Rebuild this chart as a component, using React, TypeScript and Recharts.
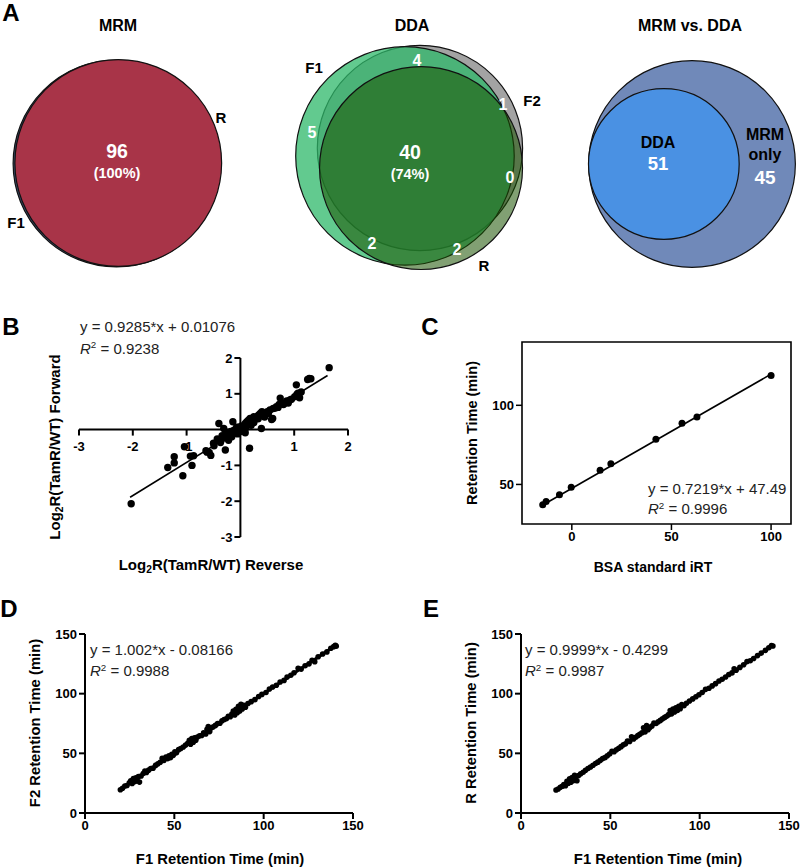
import React from 'react';
import { ScatterChart, Scatter, XAxis, YAxis, ReferenceLine, ReferenceArea } from 'recharts';

const FONT = '"Liberation Sans", Arial, Helvetica, sans-serif';

// ---------- A: Venn diagrams (peptide counts). x/y = circle centre in sqrt(count) units
const vennMRM = [
  { set: 'F1', count: 96, x: -0.05, y: -0.05 },
  { set: 'R', count: 96, x: 0.12, y: 0 },
];
const vennDDA = [
  { set: 'F2', count: 45, x: 0.52, y: 0.59 },
  { set: 'F1', count: 51, x: -0.46, y: 0.07 },
  { set: 'R', count: 44, x: 0.59, y: -0.72 },
];
const vennCompare = [
  { set: 'MRM', count: 96, x: 0, y: 0 },
  { set: 'DDA', count: 51, x: -2.67, y: 0 },
];

// ---------- B: log2 ratios, reverse vs forward labelling
const bReverse = [
  -2.03, -1.35, -1.23, -1.23, -1.07, -1.04, -0.93, -0.9, -0.87, -0.64, -0.62, -0.58, -0.55, -0.49, -0.43, -0.4,
  -0.37, -0.34, -0.31, -0.28, -0.27, -0.19, -0.14, -0.12, -0.07, -0.03, 0.03, 0.06, 0.09, 0.09, 0.12, 0.15, 0.17,
  0.18, 0.21, 0.25, 0.31, 0.34, 0.37, 0.39, 0.4, 0.43, 0.45, 0.49, 0.55, 0.58, 0.6, 0.61, 0.67, 0.74, 0.77, 0.83,
  0.89, 0.92, 1.01, 1.04, 1.07, 1.1, 1.13, 1.25, 1.31, 1.65, -0.22, -0.16, -0.1, 0.0, 0.25, 0.28, 0.52, 0.7, 0.8,
  0.95, 1.28, -0.5, -0.35, -0.25, -0.18, -0.05, 0.02, 0.1, 0.13, 0.2, 0.33, 0.42, 0.5, 0.65, 0.72, 0.86, 1.05,
];
const bForward = [
  -2.07, -1.06, -0.76, -0.93, -1.29, -0.48, -0.74, -1.0, -0.73, -0.59, -0.63, -0.64, -0.72, -0.45, -0.26, 0.17,
  -0.36, -0.17, 0.03, -0.57, -0.07, -0.12, 0.22, -0.02, 0.07, 0.07, -0.02, 0.07, 0.17, -0.09, 0.22, 0.26, -0.52,
  0.31, 0.22, 0.36, 0.36, 0.41, 0.45, 0.03, 0.5, 0.41, 0.35, 0.45, 0.55, 0.28, 0.31, 0.59, 0.64, 0.88, 0.74, 0.74,
  0.74, 0.83, 0.92, 1.25, 1.02, 0.89, 1.05, 1.4, 1.42, 1.73, -0.3, -0.2, -0.1, -0.05, 0.2, 0.3, 0.45, 0.62, 0.7,
  0.85, 1.43, -0.38, -0.28, -0.22, -0.05, -0.12, 0.1, 0.05, 0.15, 0.12, 0.3, 0.38, 0.5, 0.6, 0.7, 0.8, 0.98,
];
const bFit = [{ x: -2.05, y: -1.89 }, { x: 1.62, y: 1.51 }];
const bTicks = [-3, -2, -1, 1, 2];

// ---------- C: BSA iRT standard peptides
const cIrt = [-14.6, -12.9, -6.2, -0.3, 14.2, 19.6, 42.2, 55.3, 62.8, 100];
const cRt = [37.1, 39.2, 43.5, 48.3, 58.9, 63.1, 78.5, 88.6, 92.6, 118.8];
const cFit = [{ x: -15, y: 36.66 }, { x: 100, y: 119.68 }];

// ---------- D: F1 vs F2 retention time (min)
const dF1 = [
  19.8, 21, 22.3, 23.5, 24.8, 25.6, 26.4, 27.1, 27.8, 28.5, 29.2, 29.9, 30.5, 31.4, 32.6, 33.5, 34.4, 35.6, 36.8,
  38.1, 39.5, 40.8, 42.1, 43.2, 44.1, 45.3, 46.2, 47, 47.8, 48.6, 49.4, 50.3, 51.2, 52.4, 53.6, 55, 56.3, 57.5,
  58.4, 59.1, 59.8, 60.6, 61.3, 62, 62.9, 64.1, 65.3, 66.4, 67.6, 68.3, 69, 69.8, 70.7, 71.8, 73, 74.2, 75.5, 76.7,
  77.9, 79.1, 80.2, 81.3, 82.2, 83, 83.8, 84.5, 85.2, 85.9, 86.6, 87.3, 88, 88.9, 89.8, 91.2, 93, 95.1, 97.2, 99,
  101.3, 103.2, 105, 107.1, 109.2, 111.4, 113.1, 115.2, 117, 119.3, 121, 123.2, 125.4, 127.1, 128.6, 130.5, 133,
  135.4, 137.6, 139.2, 140.1, 140.6,
];
const dF2 = [
  19.5, 20.8, 22.6, 23, 25.3, 26.9, 24.8, 28.9, 26.2, 29.4, 27, 30.6, 25.9, 31, 33.1, 35.2, 34, 35.9, 37.3, 37.6,
  39.9, 41.2, 42.5, 45.8, 44, 46.9, 45.5, 47.9, 46.4, 49.2, 48.3, 51.2, 50.4, 53.1, 54, 55.3, 56.9, 58.4, 60.9,
  57.6, 62.4, 59.3, 63.1, 61, 63.6, 64.7, 65, 67.2, 66.3, 70.1, 72.4, 68.2, 71.5, 72.2, 73.4, 74.9, 75.2, 77.3,
  78.4, 79, 81.1, 80.6, 83, 85.4, 82.1, 86.9, 84, 89.5, 85.5, 91, 87.2, 90.2, 88.6, 91.8, 93.3, 95, 97.6, 99.4,
  101, 103.9, 105.6, 107, 109.8, 111.1, 113.9, 115.4, 117.5, 121.2, 120.6, 123.4, 125, 127.9, 126.8, 130.9,
  133.2, 135, 138, 139.4, 140.6, 139.8,
];
const dFit = [{ x: 19.5, y: 19.46 }, { x: 141, y: 141.2 }];

// ---------- E: F1 vs R retention time (min)
const eF1 = [
  19.6, 20.8, 22, 23.1, 24, 24.9, 25.7, 26.5, 27.2, 27.9, 28.6, 29.3, 30, 30.6, 31.3, 32.2, 33.4, 34.8, 36.1,
  37.5, 38.9, 40.3, 41.7, 43, 44.4, 45.7, 47, 48.3, 49.6, 50.9, 52.1, 53.4, 54.7, 56, 57.3, 58.5, 59.6, 60.8,
  61.9, 63, 64.2, 65.4, 66.5, 67.7, 68.6, 69.4, 70.3, 71.1, 72, 73.2, 74.4, 75.6, 76.8, 78, 79.2, 80.4, 81.5,
  82.6, 83.5, 84.3, 85.1, 85.9, 86.7, 87.5, 88.3, 89.1, 90, 91.2, 92.6, 94.3, 96.1, 97.9, 99.6, 101.4, 103.3,
  105.2, 107, 108.9, 110.8, 112.6, 114.5, 116.3, 118.1, 119.3, 120.4, 122.5, 124.6, 126.5, 128.3, 130.2, 132.4,
  134.5, 136.8, 138.7, 140.2, 141,
];
const eR = [
  19.3, 20.1, 21.6, 22.4, 23.9, 22.8, 26.5, 24.9, 28.6, 25.8, 29.8, 27.1, 31.6, 28.2, 27, 31.4, 32.9, 34.2, 35.8,
  37.3, 38.6, 40, 41.5, 42.6, 44.1, 45.6, 46.4, 48, 49.5, 51.8, 51.4, 53, 54.3, 55.6, 57.1, 58, 60.2, 60, 63.9,
  62.1, 63.5, 64.8, 66, 67.3, 71.5, 67.9, 73.2, 69.8, 71.4, 72.8, 75.3, 75, 76.5, 77.6, 78.9, 80.1, 81, 82.4, 85.8,
  83.1, 87.2, 84.6, 88.1, 85.9, 89.5, 87.4, 90.8, 89.9, 91.9, 93.8, 95.6, 97.4, 99.1, 101, 103.6, 104.6, 106.5,
  108.4, 110.6, 112.1, 114, 116, 117.4, 120.9, 119.6, 122, 124.2, 126.9, 127.6, 129.5, 131.9, 134, 136.3, 138.5,
  140.4, 140,
];
const eFit = [{ x: 19.5, y: 19.07 }, { x: 141, y: 140.56 }];
const rtTicks = [0, 50, 100, 150];

const zip = (xs: number[], ys: number[]) => xs.map((x, i) => ({ x, y: ys[i] }));

// ---------- small helpers
type TProps = { x: number; y: number; s?: number; b?: boolean; c?: string; left?: boolean; rot?: boolean; children: React.ReactNode };
const T = ({ x, y, s = 15, b = true, c = '#000', left = false, rot = false, children }: TProps) => (
  <div
    style={{
      position: 'absolute',
      left: x,
      top: y,
      fontSize: s,
      fontWeight: b ? 700 : 400,
      color: c,
      lineHeight: 1,
      whiteSpace: 'nowrap',
      transform: `translate(${left ? '0' : '-50%'}, -50%)${rot ? ' rotate(-90deg)' : ''}`,
    }}
  >
    {children}
  </div>
);
const Sup = ({ children }: { children: React.ReactNode }) => (
  <span style={{ fontSize: '0.65em', position: 'relative', top: '-0.55em' }}>{children}</span>
);
const Sub = ({ children }: { children: React.ReactNode }) => (
  <span style={{ fontSize: '0.68em', position: 'relative', top: '0.3em' }}>{children}</span>
);

type VStyle = Record<string, { fill: string; op: number }>;
function Venn({ data, k, cx, cy, styles, w = 250, h = 250 }: { data: any[]; k: number; cx: number; cy: number; styles: VStyle; w?: number; h?: number }) {
  const hx = w / 2 / k;
  const hy = h / 2 / k;
  const shape = (p: any) => {
    const st = styles[p.payload.set];
    return (
      <circle cx={p.cx} cy={p.cy} r={k * Math.sqrt(p.payload.count)} fill={st.fill} fillOpacity={st.op} stroke="#111" strokeWidth={1.2} />
    );
  };
  return (
    <div style={{ position: 'absolute', left: cx - w / 2, top: cy - h / 2 }}>
      <ScatterChart width={w} height={h} margin={{ top: 0, right: 0, bottom: 0, left: 0 }}>
        <XAxis type="number" dataKey="x" domain={[-hx, hx]} hide />
        <YAxis type="number" dataKey="y" domain={[-hy, hy]} hide />
        <Scatter data={data} shape={shape} isAnimationActive={false} />
      </ScatterChart>
    </div>
  );
}

const dot = (r: number) => (p: any) => <circle cx={p.cx} cy={p.cy} r={r} fill="#000" />;

const axisTick = { fill: '#000', fontSize: 13, fontWeight: 700 };
const axLine = { stroke: '#000', strokeWidth: 2 };

function RtChart({ left, pts, fit }: { left: number; pts: { x: number; y: number }[]; fit: { x: number; y: number }[] }) {
  return (
    <div style={{ position: 'absolute', left, top: 624 }}>
      <ScatterChart width={333} height={219} margin={{ top: 10, right: 15, bottom: 0, left: 0 }}>
        <XAxis type="number" dataKey="x" domain={[0, 150]} ticks={rtTicks} height={30} tick={axisTick} tickLine={axLine} axisLine={axLine} tickSize={6} />
        <YAxis type="number" dataKey="y" domain={[0, 150]} ticks={rtTicks} width={50} tick={axisTick} tickLine={axLine} axisLine={axLine} tickSize={6} />
        <ReferenceLine segment={fit} stroke="#000" strokeWidth={3} />
        <Scatter data={pts} shape={dot(2.8)} isAnimationActive={false} />
      </ScatterChart>
    </div>
  );
}

export default function App() {
  const ptsB = zip(bReverse, bForward);
  const xTicksB = bTicks.map((t) => ({ x: t, y: 0, label: String(t) }));
  const yTicksB = bTicks.map((t) => ({ x: 0, y: t, label: String(t) }));
  const xTickShape = (p: any) => (
    <g>
      <line x1={p.cx} y1={p.cy} x2={p.cx} y2={p.cy + 6} stroke="#000" strokeWidth={2} />
      <text x={p.cx} y={p.cy + 17} textAnchor="middle" dominantBaseline="central" fontSize={13} fontWeight={700} fill="#000">
        {p.payload.label}
      </text>
    </g>
  );
  const yTickShape = (p: any) => (
    <g>
      <line x1={p.cx} y1={p.cy} x2={p.cx - 6} y2={p.cy} stroke="#000" strokeWidth={2} />
      <text x={p.cx - 8} y={p.cy} textAnchor="end" dominantBaseline="central" fontSize={13} fontWeight={700} fill="#000">
        {p.payload.label}
      </text>
    </g>
  );

  return (
    <div style={{ position: 'absolute', left: 0, top: 0, width: 800, height: 867, background: '#fff', fontFamily: FONT, overflow: 'hidden' }}>
      {/* ---------------- A ---------------- */}
      <T x={11} y={12.5} s={24}>A</T>
      <T x={118} y={25.5} s={16}>MRM</T>
      <T x={412} y={25.5} s={16}>DDA</T>
      <T x={690} y={25.5} s={16}>MRM vs. DDA</T>

      <Venn data={vennMRM} k={10.55} cx={117} cy={163} styles={{ F1: { fill: '#3B4D70', op: 1 }, R: { fill: '#A83448', op: 1 } }} />
      <Venn
        data={vennDDA}
        k={15.3}
        cx={412}
        cy={157}
        w={270}
        h={270}
        styles={{ F2: { fill: '#8C8C8C', op: 0.8 }, F1: { fill: '#2DB86A', op: 0.75 }, R: { fill: '#1A5200', op: 0.55 } }}
      />
      <Venn data={vennCompare} k={10.55} cx={691.5} cy={163.5} styles={{ MRM: { fill: '#7089B9', op: 1 }, DDA: { fill: '#4A91E3', op: 1 } }} />

      <T x={221} y={117} s={15}>R</T>
      <T x={16} y={222} s={15}>F1</T>
      <T x={117} y={152} s={19.5} c="#fff">96</T>
      <T x={117} y={173} s={14.5} c="#fff">(100%)</T>

      <T x={314} y={67} s={15}>F1</T>
      <T x={532} y={100} s={15}>F2</T>
      <T x={484} y={265} s={15}>R</T>
      <T x={417} y={61} s={16} c="#fff">4</T>
      <T x={503} y={105} s={16} c="#fff">1</T>
      <T x={312} y={133} s={16} c="#fff">5</T>
      <T x={410} y={153} s={19.5} c="#fff">40</T>
      <T x={410} y={174} s={14.5} c="#fff">(74%)</T>
      <T x={510} y={178} s={16} c="#fff">0</T>
      <T x={372} y={244} s={16} c="#fff">2</T>
      <T x={457} y={250} s={16} c="#fff">2</T>

      <T x={658} y={143} s={16}>DDA</T>
      <T x={658} y={164} s={18.5} c="#fff">51</T>
      <T x={765} y={135} s={16}>MRM</T>
      <T x={765} y={155} s={16}>only</T>
      <T x={765} y={177} s={19} c="#fff">45</T>

      {/* ---------------- B ---------------- */}
      <T x={11} y={326.5} s={24}>B</T>
      <T x={80} y={325.5} s={15} b={false} c="#222" left>y = 0.9285*x + 0.01076</T>
      <T x={80} y={347.5} s={15} b={false} c="#222" left>
        <i>R</i>
        <Sup>2</Sup> = 0.9238
      </T>
      <div style={{ position: 'absolute', left: 59, top: 338 }}>
        <ScatterChart width={309} height={219} margin={{ top: 20, right: 20, bottom: 20, left: 20 }}>
          <XAxis type="number" dataKey="x" domain={[-3, 2]} hide />
          <YAxis type="number" dataKey="y" domain={[-3, 2]} hide />
          <ReferenceLine x={0} stroke="#000" strokeWidth={2} />
          <ReferenceLine y={0} stroke="#000" strokeWidth={2} />
          <Scatter data={xTicksB} shape={xTickShape} isAnimationActive={false} />
          <Scatter data={yTicksB} shape={yTickShape} isAnimationActive={false} />
          <ReferenceLine segment={bFit} stroke="#000" strokeWidth={1.6} />
          <Scatter data={ptsB} shape={dot(3.7)} isAnimationActive={false} />
        </ScatterChart>
      </div>
      <T x={55} y={447} s={15} rot>
        Log<Sub>2</Sub>R(TamR/WT) Forward
      </T>
      <T x={211} y={565} s={15}>
        Log<Sub>2</Sub>R(TamR/WT) Reverse
      </T>

      {/* ---------------- C ---------------- */}
      <T x={430} y={326.5} s={24}>C</T>
      <div style={{ position: 'absolute', left: 472, top: 338 }}>
        <ScatterChart width={329} height={216} margin={{ top: 4, right: 10, bottom: 0, left: 0 }}>
          <XAxis type="number" dataKey="x" domain={[-25, 110]} ticks={[0, 50, 100]} height={30} tick={axisTick} tickLine={{ stroke: '#000', strokeWidth: 1.5 }} axisLine={false} tickSize={6} />
          <YAxis type="number" dataKey="y" domain={[25, 140]} ticks={[50, 100]} width={50} tick={axisTick} tickLine={{ stroke: '#000', strokeWidth: 1.5 }} axisLine={false} tickSize={6} />
          <ReferenceArea x1={-25} x2={110} y1={25} y2={140} fill="none" stroke="#000" strokeWidth={1.6} />
          <ReferenceLine segment={cFit} stroke="#000" strokeWidth={1.6} />
          <Scatter data={zip(cIrt, cRt)} shape={dot(3.5)} isAnimationActive={false} />
        </ScatterChart>
      </div>
      <T x={648} y={487.5} s={15} b={false} c="#222" left>y = 0.7219*x + 47.49</T>
      <T x={648} y={508} s={15} b={false} c="#222" left>
        <i>R</i>
        <Sup>2</Sup> = 0.9996
      </T>
      <T x={472} y={433} s={14.5} rot>Retention Time (min)</T>
      <T x={653} y={567} s={14}>BSA standard iRT</T>

      {/* ---------------- D ---------------- */}
      <T x={9} y={609} s={24}>D</T>
      <RtChart left={35} pts={zip(dF1, dF2)} fit={dFit} />
      <T x={90} y={649} s={15} b={false} c="#222" left>y = 1.002*x - 0.08166</T>
      <T x={90} y={670} s={15} b={false} c="#222" left>
        <i>R</i>
        <Sup>2</Sup> = 0.9988
      </T>
      <T x={35} y={723} s={14.8} rot>F2 Retention Time (min)</T>
      <T x={220} y={859} s={14.8}>F1 Retention Time (min)</T>

      {/* ---------------- E ---------------- */}
      <T x={431} y={609} s={24}>E</T>
      <RtChart left={471} pts={zip(eF1, eR)} fit={eFit} />
      <T x={525} y={649} s={15} b={false} c="#222" left>y = 0.9999*x - 0.4299</T>
      <T x={525} y={670} s={15} b={false} c="#222" left>
        <i>R</i>
        <Sup>2</Sup> = 0.9987
      </T>
      <T x={471} y={723} s={14.8} rot>R Retention Time (min)</T>
      <T x={658} y={859} s={14.8}>F1 Retention Time (min)</T>
    </div>
  );
}
